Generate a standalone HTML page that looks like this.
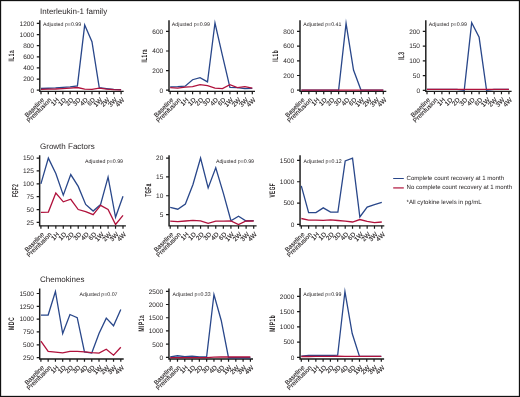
<!DOCTYPE html><html><head><meta charset="utf-8"><style>
html,body{margin:0;padding:0;background:#fff;}
body{width:520px;height:397px;overflow:hidden;}
svg{display:block;will-change:transform;}
text{font-family:"Liberation Sans",sans-serif;text-rendering:geometricPrecision;}
.t{font-size:8px;fill:#231f20;}
.n{font-size:6.5px;fill:#231f20;}
.xl{font-size:6.4px;fill:#231f20;stroke:#231f20;stroke-width:0.12px;}
.p{font-size:5.25px;fill:#231f20;}
.lg{font-size:6.05px;fill:#231f20;}
.yl{font-size:7px;font-weight:bold;fill:#231f20;}
</style></head><body>
<svg width="520" height="397" viewBox="0 0 520 397">
<rect x="0" y="0" width="520" height="397" fill="#fff"/>
<rect x="0.5" y="0.5" width="519" height="396" fill="none" stroke="#111" stroke-width="1.3"/>
<text class="t" x="40" y="14">Interleukin-1 family</text>
<text class="t" x="40" y="148.5">Growth Factors</text>
<text class="t" x="40" y="281.7">Chemokines</text>
<g><path d="M39.8 20.3V91.35H123.7" fill="none" stroke="#1a1a1a" stroke-width="1.45"/><path d="M36.8 90.2H39.8M36.8 79.07H39.8M36.8 67.93H39.8M36.8 56.8H39.8M36.8 45.67H39.8M36.8 34.53H39.8M36.8 23.4H39.8M41 91.35V94.15M48.28 91.35V94.15M55.56 91.35V94.15M62.85 91.35V94.15M70.13 91.35V94.15M77.41 91.35V94.15M84.69 91.35V94.15M91.97 91.35V94.15M99.25 91.35V94.15M106.54 91.35V94.15M113.82 91.35V94.15M121.1 91.35V94.15" fill="none" stroke="#1a1a1a" stroke-width="1.2"/><text class="n" x="34" y="92.55" text-anchor="end">0</text><text class="n" x="34" y="81.42" text-anchor="end">200</text><text class="n" x="34" y="70.28" text-anchor="end">400</text><text class="n" x="34" y="59.15" text-anchor="end">600</text><text class="n" x="34" y="48.02" text-anchor="end">800</text><text class="n" x="34" y="36.88" text-anchor="end">1000</text><text class="n" x="34" y="25.75" text-anchor="end">1200</text><text class="xl" text-anchor="end" transform="translate(44.6 100.35) rotate(-45)">Baseline</text><text class="xl" text-anchor="end" transform="translate(51.88 100.35) rotate(-45)">Preinfusion</text><text class="xl" text-anchor="end" transform="translate(59.16 100.35) rotate(-45)">1H</text><text class="xl" text-anchor="end" transform="translate(66.45 100.35) rotate(-45)">1D</text><text class="xl" text-anchor="end" transform="translate(73.73 100.35) rotate(-45)">2D</text><text class="xl" text-anchor="end" transform="translate(81.01 100.35) rotate(-45)">3D</text><text class="xl" text-anchor="end" transform="translate(88.29 100.35) rotate(-45)">4D</text><text class="xl" text-anchor="end" transform="translate(95.57 100.35) rotate(-45)">6D</text><text class="xl" text-anchor="end" transform="translate(102.85 100.35) rotate(-45)">1W</text><text class="xl" text-anchor="end" transform="translate(110.14 100.35) rotate(-45)">2W</text><text class="xl" text-anchor="end" transform="translate(117.42 100.35) rotate(-45)">3W</text><text class="xl" text-anchor="end" transform="translate(124.7 100.35) rotate(-45)">4W</text><text class="yl" style="font-size:8.0px;font-weight:bold;letter-spacing:0.9px" text-anchor="middle" transform="translate(14.1 55.63) rotate(-90) scale(0.599 1)">IL1a</text><text class="p" x="43" y="26" text-anchor="start">Adjusted p=0.99</text><path d="M41 88.42 L48.28 88.25 L55.56 87.97 L62.85 87.42 L70.13 86.86 L77.41 85.91 L84.69 25.07 L91.97 41.77 L99.25 87.7 L106.54 88.53 L113.82 89.37 L121.1 89.64" fill="none" stroke="#29478a" stroke-width="1.3" stroke-linejoin="miter" stroke-miterlimit="10"/><path d="M41 89.31 L48.28 89.2 L55.56 88.98 L62.85 88.53 L70.13 88.08 L77.41 87.53 L84.69 89.09 L91.97 89.31 L99.25 88.2 L106.54 89.09 L113.82 89.7 L121.1 89.92" fill="none" stroke="#b0123c" stroke-width="1.3" stroke-linejoin="miter" stroke-miterlimit="10"/></g>
<g><path d="M169 20.2V91.35H255" fill="none" stroke="#1a1a1a" stroke-width="1.45"/><path d="M166 90.2H169M166 70.6H169M166 51H169M166 31.4H169M170.2 91.35V94.15M177.66 91.35V94.15M185.13 91.35V94.15M192.59 91.35V94.15M200.05 91.35V94.15M207.52 91.35V94.15M214.98 91.35V94.15M222.45 91.35V94.15M229.91 91.35V94.15M237.37 91.35V94.15M244.84 91.35V94.15M252.3 91.35V94.15" fill="none" stroke="#1a1a1a" stroke-width="1.2"/><text class="n" x="163.2" y="92.55" text-anchor="end">0</text><text class="n" x="163.2" y="72.95" text-anchor="end">200</text><text class="n" x="163.2" y="53.35" text-anchor="end">400</text><text class="n" x="163.2" y="33.75" text-anchor="end">600</text><text class="xl" text-anchor="end" transform="translate(173.8 100.35) rotate(-45)">Baseline</text><text class="xl" text-anchor="end" transform="translate(181.26 100.35) rotate(-45)">Preinfusion</text><text class="xl" text-anchor="end" transform="translate(188.73 100.35) rotate(-45)">1H</text><text class="xl" text-anchor="end" transform="translate(196.19 100.35) rotate(-45)">1D</text><text class="xl" text-anchor="end" transform="translate(203.65 100.35) rotate(-45)">2D</text><text class="xl" text-anchor="end" transform="translate(211.12 100.35) rotate(-45)">3D</text><text class="xl" text-anchor="end" transform="translate(218.58 100.35) rotate(-45)">4D</text><text class="xl" text-anchor="end" transform="translate(226.05 100.35) rotate(-45)">6D</text><text class="xl" text-anchor="end" transform="translate(233.51 100.35) rotate(-45)">1W</text><text class="xl" text-anchor="end" transform="translate(240.97 100.35) rotate(-45)">2W</text><text class="xl" text-anchor="end" transform="translate(248.44 100.35) rotate(-45)">3W</text><text class="xl" text-anchor="end" transform="translate(255.9 100.35) rotate(-45)">4W</text><text class="yl" style="font-size:8.0px;font-weight:bold;letter-spacing:0.9px" text-anchor="middle" transform="translate(147.1 55.74) rotate(-90) scale(0.577 1)">IL1ra</text><text class="p" x="171.8" y="26" text-anchor="start">Adjusted p=0.99</text><path d="M170.2 86.84 L177.66 86.65 L185.13 86.15 L192.59 79.74 L200.05 77.67 L207.52 81.91 L214.98 23.01 L222.45 55.57 L229.91 87.44 L237.37 87.63 L244.84 88.62 L252.3 88.32" fill="none" stroke="#29478a" stroke-width="1.3" stroke-linejoin="miter" stroke-miterlimit="10"/><path d="M170.2 87.63 L177.66 88.13 L185.13 87.14 L192.59 86.65 L200.05 84.67 L207.52 85.66 L214.98 88.13 L222.45 88.62 L229.91 84.67 L237.37 87.63 L244.84 86.65 L252.3 88.13" fill="none" stroke="#b0123c" stroke-width="1.3" stroke-linejoin="miter" stroke-miterlimit="10"/></g>
<g><path d="M300 20.2V91.35H386.3" fill="none" stroke="#1a1a1a" stroke-width="1.45"/><path d="M297 90.2H300M297 75.5H300M297 60.8H300M297 46.1H300M297 31.4H300M301.4 91.35V94.15M308.85 91.35V94.15M316.29 91.35V94.15M323.74 91.35V94.15M331.18 91.35V94.15M338.63 91.35V94.15M346.07 91.35V94.15M353.52 91.35V94.15M360.96 91.35V94.15M368.41 91.35V94.15M375.85 91.35V94.15M383.3 91.35V94.15" fill="none" stroke="#1a1a1a" stroke-width="1.2"/><text class="n" x="294.2" y="92.55" text-anchor="end">0</text><text class="n" x="294.2" y="77.85" text-anchor="end">200</text><text class="n" x="294.2" y="63.15" text-anchor="end">400</text><text class="n" x="294.2" y="48.45" text-anchor="end">600</text><text class="n" x="294.2" y="33.75" text-anchor="end">800</text><text class="xl" text-anchor="end" transform="translate(305 100.35) rotate(-45)">Baseline</text><text class="xl" text-anchor="end" transform="translate(312.45 100.35) rotate(-45)">Preinfusion</text><text class="xl" text-anchor="end" transform="translate(319.89 100.35) rotate(-45)">1H</text><text class="xl" text-anchor="end" transform="translate(327.34 100.35) rotate(-45)">1D</text><text class="xl" text-anchor="end" transform="translate(334.78 100.35) rotate(-45)">2D</text><text class="xl" text-anchor="end" transform="translate(342.23 100.35) rotate(-45)">3D</text><text class="xl" text-anchor="end" transform="translate(349.67 100.35) rotate(-45)">4D</text><text class="xl" text-anchor="end" transform="translate(357.12 100.35) rotate(-45)">6D</text><text class="xl" text-anchor="end" transform="translate(364.56 100.35) rotate(-45)">1W</text><text class="xl" text-anchor="end" transform="translate(372.01 100.35) rotate(-45)">2W</text><text class="xl" text-anchor="end" transform="translate(379.45 100.35) rotate(-45)">3W</text><text class="xl" text-anchor="end" transform="translate(386.9 100.35) rotate(-45)">4W</text><text class="yl" style="font-size:8.0px;font-weight:bold;letter-spacing:0.9px" text-anchor="middle" transform="translate(278.1 55.73) rotate(-90) scale(0.590 1)">IL1b</text><text class="p" x="303.3" y="26" text-anchor="start">Adjusted p=0.41</text><path d="M301.4 90.1 L308.85 90.1 L316.29 90.1 L323.74 90.1 L331.18 90.1 L338.63 90.1 L346.07 23.36 L353.52 70.04 L360.96 90.1 L368.41 90.1 L375.85 90.1 L383.3 90.1" fill="none" stroke="#29478a" stroke-width="1.3" stroke-linejoin="miter" stroke-miterlimit="10"/><path d="M301.4 90.1 L308.85 90.1 L316.29 90.1 L323.74 90.1 L331.18 90.1 L338.63 90.1 L346.07 90.1 L353.52 90.1 L360.96 90.1 L368.41 90.1 L375.85 90.1 L383.3 90.1" fill="none" stroke="#b0123c" stroke-width="1.3" stroke-linejoin="miter" stroke-miterlimit="10"/></g>
<g><path d="M425.8 20.2V91.35H511.6" fill="none" stroke="#1a1a1a" stroke-width="1.45"/><path d="M422.8 90.3H425.8M422.8 75.58H425.8M422.8 60.85H425.8M422.8 46.12H425.8M422.8 31.4H425.8M427 91.35V94.15M434.45 91.35V94.15M441.89 91.35V94.15M449.34 91.35V94.15M456.78 91.35V94.15M464.23 91.35V94.15M471.67 91.35V94.15M479.12 91.35V94.15M486.56 91.35V94.15M494.01 91.35V94.15M501.45 91.35V94.15M508.9 91.35V94.15" fill="none" stroke="#1a1a1a" stroke-width="1.2"/><text class="n" x="420" y="92.65" text-anchor="end">0</text><text class="n" x="420" y="77.92" text-anchor="end">50</text><text class="n" x="420" y="63.2" text-anchor="end">100</text><text class="n" x="420" y="48.48" text-anchor="end">150</text><text class="n" x="420" y="33.75" text-anchor="end">200</text><text class="xl" text-anchor="end" transform="translate(430.6 100.35) rotate(-45)">Baseline</text><text class="xl" text-anchor="end" transform="translate(438.05 100.35) rotate(-45)">Preinfusion</text><text class="xl" text-anchor="end" transform="translate(445.49 100.35) rotate(-45)">1H</text><text class="xl" text-anchor="end" transform="translate(452.94 100.35) rotate(-45)">1D</text><text class="xl" text-anchor="end" transform="translate(460.38 100.35) rotate(-45)">2D</text><text class="xl" text-anchor="end" transform="translate(467.83 100.35) rotate(-45)">3D</text><text class="xl" text-anchor="end" transform="translate(475.27 100.35) rotate(-45)">4D</text><text class="xl" text-anchor="end" transform="translate(482.72 100.35) rotate(-45)">6D</text><text class="xl" text-anchor="end" transform="translate(490.16 100.35) rotate(-45)">1W</text><text class="xl" text-anchor="end" transform="translate(497.61 100.35) rotate(-45)">2W</text><text class="xl" text-anchor="end" transform="translate(505.05 100.35) rotate(-45)">3W</text><text class="xl" text-anchor="end" transform="translate(512.5 100.35) rotate(-45)">4W</text><text class="yl" style="font-size:8.0px;font-weight:normal;letter-spacing:0.9px;stroke:#231f20;stroke-width:0.3px" text-anchor="middle" transform="translate(404.1 55.74) rotate(-90) scale(0.580 1)">IL3</text><text class="p" x="428.8" y="26" text-anchor="start">Adjusted p=0.99</text><path d="M427 89.41 L434.45 89.41 L441.89 89.41 L449.34 89.41 L456.78 89.41 L464.23 90.3 L471.67 22.81 L479.12 37.32 L486.56 90.3 L494.01 89.41 L501.45 89.41 L508.9 89.41" fill="none" stroke="#29478a" stroke-width="1.3" stroke-linejoin="miter" stroke-miterlimit="10"/><path d="M427 89.41 L434.45 89.41 L441.89 89.41 L449.34 89.41 L456.78 89.41 L464.23 89.41 L471.67 89.41 L479.12 89.41 L486.56 89.41 L494.01 89.41 L501.45 89.41 L508.9 89.41" fill="none" stroke="#b0123c" stroke-width="1.3" stroke-linejoin="miter" stroke-miterlimit="10"/></g>
<g><path d="M39.65 155.2V225.85H125.9" fill="none" stroke="#1a1a1a" stroke-width="1.45"/><path d="M36.65 222.4H39.65M36.65 209.54H39.65M36.65 196.68H39.65M36.65 183.82H39.65M36.65 170.96H39.65M36.65 158.1H39.65M40.9 225.85V228.65M48.36 225.85V228.65M55.83 225.85V228.65M63.29 225.85V228.65M70.75 225.85V228.65M78.22 225.85V228.65M85.68 225.85V228.65M93.15 225.85V228.65M100.61 225.85V228.65M108.07 225.85V228.65M115.54 225.85V228.65M123 225.85V228.65" fill="none" stroke="#1a1a1a" stroke-width="1.2"/><text class="n" x="33.85" y="224.75" text-anchor="end">25</text><text class="n" x="33.85" y="211.89" text-anchor="end">50</text><text class="n" x="33.85" y="199.03" text-anchor="end">75</text><text class="n" x="33.85" y="186.17" text-anchor="end">100</text><text class="n" x="33.85" y="173.31" text-anchor="end">125</text><text class="n" x="33.85" y="160.45" text-anchor="end">150</text><text class="xl" text-anchor="end" transform="translate(44.5 234.85) rotate(-45)">Baseline</text><text class="xl" text-anchor="end" transform="translate(51.96 234.85) rotate(-45)">Preinfusion</text><text class="xl" text-anchor="end" transform="translate(59.43 234.85) rotate(-45)">1H</text><text class="xl" text-anchor="end" transform="translate(66.89 234.85) rotate(-45)">1D</text><text class="xl" text-anchor="end" transform="translate(74.35 234.85) rotate(-45)">2D</text><text class="xl" text-anchor="end" transform="translate(81.82 234.85) rotate(-45)">3D</text><text class="xl" text-anchor="end" transform="translate(89.28 234.85) rotate(-45)">4D</text><text class="xl" text-anchor="end" transform="translate(96.75 234.85) rotate(-45)">6D</text><text class="xl" text-anchor="end" transform="translate(104.21 234.85) rotate(-45)">1W</text><text class="xl" text-anchor="end" transform="translate(111.67 234.85) rotate(-45)">2W</text><text class="xl" text-anchor="end" transform="translate(119.14 234.85) rotate(-45)">3W</text><text class="xl" text-anchor="end" transform="translate(126.6 234.85) rotate(-45)">4W</text><text class="yl" style="font-size:8.2px;font-weight:normal;letter-spacing:0.9px;stroke:#231f20;stroke-width:0.3px" text-anchor="middle" transform="translate(18.1 190.46) rotate(-90) scale(0.537 1)">FGF2</text><text class="p" x="123" y="162.7" text-anchor="end">Adjusted p=0.99</text><path d="M40.9 183.82 L48.36 158.1 L55.83 173.53 L63.29 195.14 L70.75 174.56 L78.22 186.39 L85.68 204.4 L93.15 211.08 L100.61 204.4 L108.07 177.13 L115.54 217.26 L123 196.17" fill="none" stroke="#29478a" stroke-width="1.3" stroke-linejoin="miter" stroke-miterlimit="10"/><path d="M40.9 212.37 L48.36 212.11 L55.83 193.08 L63.29 201.82 L70.75 199.25 L78.22 209.54 L85.68 211.6 L93.15 214.68 L100.61 205.42 L108.07 209.54 L115.54 224.46 L123 215.4" fill="none" stroke="#b0123c" stroke-width="1.3" stroke-linejoin="miter" stroke-miterlimit="10"/></g>
<g><path d="M169.05 155.2V225.85H256.6" fill="none" stroke="#1a1a1a" stroke-width="1.45"/><path d="M166.05 214.6H169.05M166.05 195.77H169.05M166.05 176.93H169.05M166.05 158.1H169.05M170.2 225.85V228.65M177.79 225.85V228.65M185.38 225.85V228.65M192.97 225.85V228.65M200.56 225.85V228.65M208.15 225.85V228.65M215.75 225.85V228.65M223.34 225.85V228.65M230.93 225.85V228.65M238.52 225.85V228.65M246.11 225.85V228.65M253.7 225.85V228.65" fill="none" stroke="#1a1a1a" stroke-width="1.2"/><text class="n" x="163.25" y="216.95" text-anchor="end">5</text><text class="n" x="163.25" y="198.12" text-anchor="end">10</text><text class="n" x="163.25" y="179.28" text-anchor="end">15</text><text class="n" x="163.25" y="160.45" text-anchor="end">20</text><text class="xl" text-anchor="end" transform="translate(173.8 234.85) rotate(-45)">Baseline</text><text class="xl" text-anchor="end" transform="translate(181.39 234.85) rotate(-45)">Preinfusion</text><text class="xl" text-anchor="end" transform="translate(188.98 234.85) rotate(-45)">1H</text><text class="xl" text-anchor="end" transform="translate(196.57 234.85) rotate(-45)">1D</text><text class="xl" text-anchor="end" transform="translate(204.16 234.85) rotate(-45)">2D</text><text class="xl" text-anchor="end" transform="translate(211.75 234.85) rotate(-45)">3D</text><text class="xl" text-anchor="end" transform="translate(219.35 234.85) rotate(-45)">4D</text><text class="xl" text-anchor="end" transform="translate(226.94 234.85) rotate(-45)">6D</text><text class="xl" text-anchor="end" transform="translate(234.53 234.85) rotate(-45)">1W</text><text class="xl" text-anchor="end" transform="translate(242.12 234.85) rotate(-45)">2W</text><text class="xl" text-anchor="end" transform="translate(249.71 234.85) rotate(-45)">3W</text><text class="xl" text-anchor="end" transform="translate(257.3 234.85) rotate(-45)">4W</text><text class="yl" style="font-size:8.2px;font-weight:normal;letter-spacing:0.9px;stroke:#231f20;stroke-width:0.3px" text-anchor="middle" transform="translate(151.1 189.96) rotate(-90) scale(0.537 1)">TGFa</text><text class="p" x="254" y="162.7" text-anchor="end">Adjusted p=0.99</text><path d="M170.2 207.29 L177.79 209.21 L185.38 204.05 L192.97 184.47 L200.56 158.1 L208.15 187.86 L215.75 167.89 L223.34 193.13 L230.93 220.7 L238.52 216.29 L246.11 221 L253.7 220.7" fill="none" stroke="#29478a" stroke-width="1.3" stroke-linejoin="miter" stroke-miterlimit="10"/><path d="M170.2 221.19 L177.79 221.57 L185.38 221 L192.97 220.44 L200.56 220.81 L208.15 223.26 L215.75 221.19 L223.34 221.19 L230.93 220.81 L238.52 224.58 L246.11 221 L253.7 221" fill="none" stroke="#b0123c" stroke-width="1.3" stroke-linejoin="miter" stroke-miterlimit="10"/></g>
<g><path d="M300.05 155.2V225.85H384.3" fill="none" stroke="#1a1a1a" stroke-width="1.45"/><path d="M297.05 224.4H300.05M297.05 203.07H300.05M297.05 181.73H300.05M297.05 160.4H300.05M301.3 225.85V228.65M308.62 225.85V228.65M315.94 225.85V228.65M323.25 225.85V228.65M330.57 225.85V228.65M337.89 225.85V228.65M345.21 225.85V228.65M352.53 225.85V228.65M359.85 225.85V228.65M367.16 225.85V228.65M374.48 225.85V228.65M381.8 225.85V228.65" fill="none" stroke="#1a1a1a" stroke-width="1.2"/><text class="n" x="294.25" y="226.75" text-anchor="end">0</text><text class="n" x="294.25" y="205.42" text-anchor="end">500</text><text class="n" x="294.25" y="184.08" text-anchor="end">1000</text><text class="n" x="294.25" y="162.75" text-anchor="end">1500</text><text class="xl" text-anchor="end" transform="translate(304.9 234.85) rotate(-45)">Baseline</text><text class="xl" text-anchor="end" transform="translate(312.22 234.85) rotate(-45)">Preinfusion</text><text class="xl" text-anchor="end" transform="translate(319.54 234.85) rotate(-45)">1H</text><text class="xl" text-anchor="end" transform="translate(326.85 234.85) rotate(-45)">1D</text><text class="xl" text-anchor="end" transform="translate(334.17 234.85) rotate(-45)">2D</text><text class="xl" text-anchor="end" transform="translate(341.49 234.85) rotate(-45)">3D</text><text class="xl" text-anchor="end" transform="translate(348.81 234.85) rotate(-45)">4D</text><text class="xl" text-anchor="end" transform="translate(356.13 234.85) rotate(-45)">6D</text><text class="xl" text-anchor="end" transform="translate(363.45 234.85) rotate(-45)">1W</text><text class="xl" text-anchor="end" transform="translate(370.76 234.85) rotate(-45)">2W</text><text class="xl" text-anchor="end" transform="translate(378.08 234.85) rotate(-45)">3W</text><text class="xl" text-anchor="end" transform="translate(385.4 234.85) rotate(-45)">4W</text><text class="yl" style="font-size:8.0px;font-weight:bold;letter-spacing:0.9px" text-anchor="middle" transform="translate(274.6 190.14) rotate(-90) scale(0.580 1)">VEGF</text><text class="p" x="303.6" y="162.7" text-anchor="start">Adjusted p=0.12</text><path d="M301.3 185.9 L308.62 212.56 L315.94 212.56 L323.25 207.83 L330.57 212.13 L337.89 212.13 L345.21 160.96 L352.53 158.16 L359.85 216.99 L367.16 207.1 L374.48 204.69 L381.8 202.28" fill="none" stroke="#29478a" stroke-width="1.3" stroke-linejoin="miter" stroke-miterlimit="10"/><path d="M301.3 218.49 L308.62 220.09 L315.94 220.09 L323.25 220.3 L330.57 219.87 L337.89 220.51 L345.21 221.16 L352.53 222.02 L359.85 219.53 L367.16 221.42 L374.48 222.71 L381.8 222.02" fill="none" stroke="#b0123c" stroke-width="1.3" stroke-linejoin="miter" stroke-miterlimit="10"/></g>
<g><path d="M39.7 288.5V359H123.7" fill="none" stroke="#1a1a1a" stroke-width="1.45"/><path d="M36.7 357.6H39.7M36.7 344.78H39.7M36.7 331.96H39.7M36.7 319.14H39.7M36.7 306.32H39.7M36.7 293.5H39.7M40.9 359V361.8M48.16 359V361.8M55.43 359V361.8M62.69 359V361.8M69.95 359V361.8M77.22 359V361.8M84.48 359V361.8M91.75 359V361.8M99.01 359V361.8M106.27 359V361.8M113.54 359V361.8M120.8 359V361.8" fill="none" stroke="#1a1a1a" stroke-width="1.2"/><text class="n" x="33.9" y="359.95" text-anchor="end">250</text><text class="n" x="33.9" y="347.13" text-anchor="end">500</text><text class="n" x="33.9" y="334.31" text-anchor="end">750</text><text class="n" x="33.9" y="321.49" text-anchor="end">1000</text><text class="n" x="33.9" y="308.67" text-anchor="end">1250</text><text class="n" x="33.9" y="295.85" text-anchor="end">1500</text><text class="xl" text-anchor="end" transform="translate(44.5 368) rotate(-45)">Baseline</text><text class="xl" text-anchor="end" transform="translate(51.76 368) rotate(-45)">Preinfusion</text><text class="xl" text-anchor="end" transform="translate(59.03 368) rotate(-45)">1H</text><text class="xl" text-anchor="end" transform="translate(66.29 368) rotate(-45)">1D</text><text class="xl" text-anchor="end" transform="translate(73.55 368) rotate(-45)">2D</text><text class="xl" text-anchor="end" transform="translate(80.82 368) rotate(-45)">3D</text><text class="xl" text-anchor="end" transform="translate(88.08 368) rotate(-45)">4D</text><text class="xl" text-anchor="end" transform="translate(95.35 368) rotate(-45)">6D</text><text class="xl" text-anchor="end" transform="translate(102.61 368) rotate(-45)">1W</text><text class="xl" text-anchor="end" transform="translate(109.87 368) rotate(-45)">2W</text><text class="xl" text-anchor="end" transform="translate(117.14 368) rotate(-45)">3W</text><text class="xl" text-anchor="end" transform="translate(124.4 368) rotate(-45)">4W</text><text class="yl" style="font-size:8.0px;font-weight:bold;letter-spacing:0.9px" text-anchor="middle" transform="translate(14.1 323.41) rotate(-90) scale(0.634 1)">MDC</text><text class="p" x="117.5" y="296.1" text-anchor="end">Adjusted p=0.07</text><path d="M40.9 315.04 L48.16 315.04 L55.43 291.45 L62.69 333.5 L69.95 314.52 L77.22 317.6 L84.48 351.86 L91.75 353.09 L99.01 333.5 L106.27 318.11 L113.54 325.81 L120.8 309.4" fill="none" stroke="#29478a" stroke-width="1.3" stroke-linejoin="miter" stroke-miterlimit="10"/><path d="M40.9 341.09 L48.16 351.29 L55.43 352.11 L62.69 352.88 L69.95 351.29 L77.22 351.29 L84.48 351.91 L91.75 352.63 L99.01 353.09 L106.27 349.19 L113.54 355.19 L120.8 347.29" fill="none" stroke="#b0123c" stroke-width="1.3" stroke-linejoin="miter" stroke-miterlimit="10"/></g>
<g><path d="M168.95 288.6V359H253" fill="none" stroke="#1a1a1a" stroke-width="1.45"/><path d="M165.95 357.4H168.95M165.95 344.18H168.95M165.95 330.96H168.95M165.95 317.74H168.95M165.95 304.52H168.95M165.95 291.3H168.95M170.2 359V361.8M177.49 359V361.8M184.78 359V361.8M192.07 359V361.8M199.36 359V361.8M206.65 359V361.8M213.95 359V361.8M221.24 359V361.8M228.53 359V361.8M235.82 359V361.8M243.11 359V361.8M250.4 359V361.8" fill="none" stroke="#1a1a1a" stroke-width="1.2"/><text class="n" x="163.15" y="359.75" text-anchor="end">0</text><text class="n" x="163.15" y="346.53" text-anchor="end">500</text><text class="n" x="163.15" y="333.31" text-anchor="end">1000</text><text class="n" x="163.15" y="320.09" text-anchor="end">1500</text><text class="n" x="163.15" y="306.87" text-anchor="end">2000</text><text class="n" x="163.15" y="293.65" text-anchor="end">2500</text><text class="xl" text-anchor="end" transform="translate(173.8 368) rotate(-45)">Baseline</text><text class="xl" text-anchor="end" transform="translate(181.09 368) rotate(-45)">Preinfusion</text><text class="xl" text-anchor="end" transform="translate(188.38 368) rotate(-45)">1H</text><text class="xl" text-anchor="end" transform="translate(195.67 368) rotate(-45)">1D</text><text class="xl" text-anchor="end" transform="translate(202.96 368) rotate(-45)">2D</text><text class="xl" text-anchor="end" transform="translate(210.25 368) rotate(-45)">3D</text><text class="xl" text-anchor="end" transform="translate(217.55 368) rotate(-45)">4D</text><text class="xl" text-anchor="end" transform="translate(224.84 368) rotate(-45)">6D</text><text class="xl" text-anchor="end" transform="translate(232.13 368) rotate(-45)">1W</text><text class="xl" text-anchor="end" transform="translate(239.42 368) rotate(-45)">2W</text><text class="xl" text-anchor="end" transform="translate(246.71 368) rotate(-45)">3W</text><text class="xl" text-anchor="end" transform="translate(254 368) rotate(-45)">4W</text><text class="yl" style="font-size:8.0px;font-weight:bold;letter-spacing:0.9px" text-anchor="middle" transform="translate(143.6 323.13) rotate(-90) scale(0.606 1)">MIP1a</text><text class="p" x="172.6" y="296.3" text-anchor="start">Adjusted p=0.33</text><path d="M170.2 356.9 L177.49 355.78 L184.78 356.69 L192.07 356.18 L199.36 356.9 L206.65 356.69 L213.95 294.48 L221.24 320.48 L228.53 357.73 L235.82 357.73 L243.11 357.73 L250.4 357.73" fill="none" stroke="#29478a" stroke-width="1.3" stroke-linejoin="miter" stroke-miterlimit="10"/><path d="M170.2 357.6 L177.49 357.6 L184.78 357.6 L192.07 357.6 L199.36 357.6 L206.65 357.6 L213.95 357.2 L221.24 357.01 L228.53 357.01 L235.82 357.01 L243.11 357.01 L250.4 357.01" fill="none" stroke="#b0123c" stroke-width="1.3" stroke-linejoin="miter" stroke-miterlimit="10"/></g>
<g><path d="M300.05 288V359H384.1" fill="none" stroke="#1a1a1a" stroke-width="1.45"/><path d="M297.05 357.4H300.05M297.05 342.14H300.05M297.05 326.88H300.05M297.05 311.61H300.05M297.05 296.35H300.05M301.3 359V361.8M308.57 359V361.8M315.85 359V361.8M323.12 359V361.8M330.39 359V361.8M337.66 359V361.8M344.94 359V361.8M352.21 359V361.8M359.48 359V361.8M366.75 359V361.8M374.03 359V361.8M381.3 359V361.8" fill="none" stroke="#1a1a1a" stroke-width="1.2"/><text class="n" x="294.25" y="359.75" text-anchor="end">0</text><text class="n" x="294.25" y="344.49" text-anchor="end">500</text><text class="n" x="294.25" y="329.23" text-anchor="end">1000</text><text class="n" x="294.25" y="313.96" text-anchor="end">1500</text><text class="n" x="294.25" y="298.7" text-anchor="end">2000</text><text class="xl" text-anchor="end" transform="translate(304.9 368) rotate(-45)">Baseline</text><text class="xl" text-anchor="end" transform="translate(312.17 368) rotate(-45)">Preinfusion</text><text class="xl" text-anchor="end" transform="translate(319.45 368) rotate(-45)">1H</text><text class="xl" text-anchor="end" transform="translate(326.72 368) rotate(-45)">1D</text><text class="xl" text-anchor="end" transform="translate(333.99 368) rotate(-45)">2D</text><text class="xl" text-anchor="end" transform="translate(341.26 368) rotate(-45)">3D</text><text class="xl" text-anchor="end" transform="translate(348.54 368) rotate(-45)">4D</text><text class="xl" text-anchor="end" transform="translate(355.81 368) rotate(-45)">6D</text><text class="xl" text-anchor="end" transform="translate(363.08 368) rotate(-45)">1W</text><text class="xl" text-anchor="end" transform="translate(370.35 368) rotate(-45)">2W</text><text class="xl" text-anchor="end" transform="translate(377.63 368) rotate(-45)">3W</text><text class="xl" text-anchor="end" transform="translate(384.9 368) rotate(-45)">4W</text><text class="yl" style="font-size:8.0px;font-weight:bold;letter-spacing:0.9px" text-anchor="middle" transform="translate(274.6 323.23) rotate(-90) scale(0.608 1)">MIP1b</text><text class="p" x="303.3" y="296.3" text-anchor="start">Adjusted p=0.99</text><path d="M301.3 356.09 L308.57 355.48 L315.85 355.48 L323.12 355.48 L330.39 355.48 L337.66 355.2 L344.94 291.53 L352.21 333.55 L359.48 356.39 L366.75 356.39 L374.03 356.39 L381.3 356.39" fill="none" stroke="#29478a" stroke-width="1.3" stroke-linejoin="miter" stroke-miterlimit="10"/><path d="M301.3 356.51 L308.57 356.51 L315.85 356.45 L323.12 356.39 L330.39 356.39 L337.66 356.09 L344.94 356.3 L352.21 356.3 L359.48 356.3 L366.75 356.3 L374.03 356.3 L381.3 356.3" fill="none" stroke="#b0123c" stroke-width="1.3" stroke-linejoin="miter" stroke-miterlimit="10"/></g>
<path d="M393.2 178.5H403.8" stroke="#29478a" stroke-width="1.0"/>
<path d="M393.2 187.9H403.8" stroke="#b0123c" stroke-width="1.5" opacity="0.8"/>
<text class="lg" x="406.6" y="180.3">Complete count recovery at 1 month</text>
<text class="lg" x="406.6" y="189.3">No complete count recovery at 1 month</text>
<text class="lg" x="406.6" y="204.0">*All cytokine levels in pg/mL</text>
</svg></body></html>
